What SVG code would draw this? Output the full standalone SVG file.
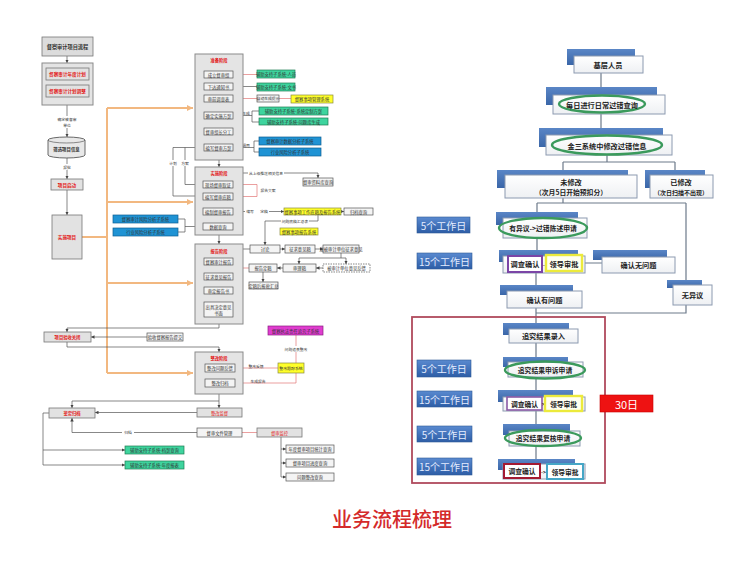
<svg xmlns="http://www.w3.org/2000/svg" width="750" height="572" viewBox="0 0 750 572">
<defs>
<style>
.bg{fill:#ffffff}
.st{fill:#e4e4e4;stroke:#8a8a8a;stroke-width:1}
.ib{fill:#f4f4f4;stroke:#555;stroke-width:0.7}
.gb{fill:#3ed49e;stroke:#1d7d52;stroke-width:0.7}
.bb{fill:#1f93d4;stroke:#0e5f92;stroke-width:0.7}
.yb{fill:#ffff2a;stroke:#8a8a40;stroke-width:0.7}
.mb{fill:#e03ccf;stroke:#8a1f80;stroke-width:0.7}
.rb{fill:#e2e2e2;stroke:#777;stroke-width:0.8}
.t{font-family:"Noto Sans CJK SC","Noto Sans",sans-serif;font-size:4.3px;fill:#333;text-anchor:middle;dominant-baseline:central}
.tr{fill:#e21b1b;font-weight:bold}
.tb{font-weight:bold}
.ln{stroke:#555;stroke-width:0.7;fill:none}
.lr{stroke:#e27575;stroke-width:0.7;fill:none}
.lo{stroke:#f2b880;stroke-width:2;fill:none}
.lw{fill:#fff}
.tab{fill:url(#gtab)}
.wb{fill:url(#gwb);stroke:#8c9ab0;stroke-width:1}
.el{fill:none;stroke:#3b9a5c;stroke-width:2.4}
.rt{font-family:"Noto Sans CJK SC","Noto Sans",sans-serif;font-size:7.2px;fill:#222;font-weight:bold;text-anchor:middle;dominant-baseline:central}
.rl{stroke:#6d7a8a;stroke-width:1.2;fill:none}
.dl{fill:url(#gdl);stroke:#2f5a96;stroke-width:0.6}
.dt{font-family:"Noto Sans CJK SC","Noto Sans",sans-serif;font-size:10px;fill:#e4ecff;text-anchor:middle;dominant-baseline:central}
</style>
<linearGradient id="gtab" x1="0" y1="0" x2="0" y2="1"><stop offset="0" stop-color="#5a86c6"/><stop offset="1" stop-color="#3a66a8"/></linearGradient>
<linearGradient id="gwb" x1="0" y1="0" x2="0" y2="1"><stop offset="0" stop-color="#ffffff"/><stop offset="1" stop-color="#eef0f3"/></linearGradient>
<linearGradient id="gdl" x1="0" y1="0" x2="0" y2="1"><stop offset="0" stop-color="#5a8ad0"/><stop offset="1" stop-color="#2d5da6"/></linearGradient>
<marker id="a" viewBox="0 0 6 6" refX="6" refY="3" markerWidth="5" markerHeight="5" orient="auto"><path d="M0,0L6,3L0,6z" fill="#444"/></marker>
<marker id="ar" viewBox="0 0 6 6" refX="6" refY="3" markerWidth="5" markerHeight="5" orient="auto"><path d="M0,0L6,3L0,6z" fill="#e06060"/></marker>
<marker id="ao" viewBox="0 0 6 6" refX="6" refY="3" markerWidth="3" markerHeight="3" orient="auto"><path d="M0,0L6,3L0,6z" fill="#f2b880"/></marker>
</defs>
<rect class="bg" x="0" y="0" width="750" height="572"/>

<!-- ===== LEFT DIAGRAM CONNECTORS ===== -->
<g id="left-connectors">
<path class="lo" d="M82,237H107M107,108V373"/>
<path class="lo" d="M107,108H193" marker-end="url(#ao)"/>
<path class="lo" d="M107,202H193" marker-end="url(#ao)"/>
<path class="lo" d="M107,283H193" marker-end="url(#ao)"/>
<path class="lo" d="M107,373H193" marker-end="url(#ao)"/>
<path class="ln" d="M67,56V63" marker-end="url(#a)"/>
<path class="ln" d="M67,105V137" marker-end="url(#a)"/>
<path class="ln" d="M67,158V179" marker-end="url(#a)"/>
<path class="ln" d="M67,190V215" marker-end="url(#a)"/>
<rect class="lw" x="55" y="116" width="24" height="12"/>
<text class="t" x="67" y="119" style="font-size:3.8px">确定被督审</text>
<text class="t" x="67" y="125" style="font-size:3.8px">单位</text>
<rect class="lw" x="61" y="164" width="12" height="6"/>
<text class="t" x="67" y="167" style="font-size:3.8px">报批</text>
<!-- prep stage internal -->
<path class="ln" d="M218.5,78V83" marker-end="url(#a)"/>
<path class="ln" d="M218.5,90V95" marker-end="url(#a)"/>
<path class="ln" d="M218.5,102V112" marker-end="url(#a)"/>
<path class="ln" d="M218.5,119V128" marker-end="url(#a)"/>
<path class="ln" d="M218.5,135V144" marker-end="url(#a)"/>
<path class="lr" d="M233,74.5H257"/>
<path class="ln" d="M257,86.5H233" marker-end="url(#a)"/>
<path class="lr" d="M233,98.5H257M279,98.5H291"/>
<path class="ln" d="M259,111H252V122H259M252,115.5H233" marker-end="url(#a)"/>
<path class="ln" d="M259,141H254V152H259M254,147.5H233" marker-end="url(#a)"/>
<text class="t" x="246" y="113" style="font-size:3.8px">生成</text>
<text class="t" x="246" y="145" style="font-size:3.8px">调用</text>
<path class="ln" d="M204,147.5H173V196H202" marker-end="url(#a)"/>
<path class="ln" d="M185,147.5V184.5H202" marker-end="url(#a)"/>
<rect class="lw" x="167" y="160" width="24" height="6"/>
<text class="t" x="173" y="163" style="font-size:3.8px">计划</text>
<text class="t" x="185" y="163" style="font-size:3.8px">方案</text>
<path class="ln" d="M219,160V167" marker-end="url(#a)"/>
<!-- implementation stage -->
<path class="ln" d="M218,188V193" marker-end="url(#a)"/>
<path class="ln" d="M218,200V208" marker-end="url(#a)"/>
<path class="ln" d="M218,215V223" marker-end="url(#a)"/>
<path class="ln" d="M243,173H318V178" marker-end="url(#a)"/>
<rect class="lw" x="248" y="170" width="36" height="6"/>
<text class="t" x="266" y="173" style="font-size:3.8px">从上级推送相关信息</text>
<path class="lr" d="M233,184.5H257V196.5H233"/>
<text class="t" x="268" y="190.5" style="font-size:3.8px">报告文案</text>
<path class="ln" d="M233,211.5H284" marker-end="url(#a)"/>
<rect class="lw" x="245" y="208.5" width="24" height="6"/>
<text class="t" x="250" y="211.5" style="font-size:3.8px">编写</text>
<text class="t" x="264" y="211.5" style="font-size:3.8px">定稿</text>
<path class="ln" d="M341,211.5H344" marker-end="url(#a)"/>
<path class="ln" d="M318,215V221H265V245" marker-end="url(#a)"/>
<rect class="lw" x="281" y="218" width="28" height="6"/>
<text class="t" x="295" y="221" style="font-size:3.8px">问题底稿汇总表</text>
<path class="ln" d="M178,219H185V232H178M185,226.5H203" marker-end="url(#a)"/>
<path class="ln" d="M219,235V244" marker-end="url(#a)"/>
<!-- report stage -->
<path class="ln" d="M218.5,265V273" marker-end="url(#a)"/>
<path class="ln" d="M218.5,280V287" marker-end="url(#a)"/>
<path class="ln" d="M218.5,294V302" marker-end="url(#a)"/>
<path class="ln" d="M250,249H241V258"/>
<path class="lr" d="M249,268H239V261.5H233" marker-end="url(#ar)"/>
<path class="ln" d="M280,249H285" marker-end="url(#a)"/>
<path class="ln" d="M315,249H323" marker-end="url(#a)"/>
<path class="ln" d="M341,253V258H299V264" marker-end="url(#a)"/>
<path class="ln" d="M341,258H346V264" marker-end="url(#a)"/>
<path class="ln" d="M323,268H316" marker-end="url(#a)"/>
<path class="ln" d="M283,268H277" marker-end="url(#a)"/>
<path class="ln" d="M263,272V282" marker-end="url(#a)"/>
<path class="ln" d="M219,324V328H67V332" marker-end="url(#a)"/>
<path class="ln" d="M147,337H91" marker-end="url(#a)"/>
<path class="ln" d="M67,342V347H219V352" marker-end="url(#a)"/>
<!-- rectification -->
<path class="ln" d="M220,372V379" marker-end="url(#a)"/>
<path class="lr" d="M235,368H278"/>
<text class="t" x="256" y="366" style="font-size:3.8px">整改反馈</text>
<path class="lr" d="M296,373V383H235" marker-end="url(#ar)"/>
<text class="t" x="258" y="381" style="font-size:3.8px">生成报告</text>
<path class="lr" d="M296,335V363"/>
<rect class="lw" x="283" y="346" width="26" height="6"/>
<text class="t" x="296" y="349" style="font-size:3.8px">问题追责整改</text>
<path class="ln" d="M219,394V408" marker-end="url(#a)"/>
<path class="ln" d="M219,401H72V408" marker-end="url(#a)"/>
<path class="ln" d="M197,412.5H95" marker-end="url(#a)"/>
<path class="ln" d="M197,432.5H72V418" marker-end="url(#a)"/>
<rect class="lw" x="122" y="429.5" width="12" height="6"/>
<text class="t" x="128" y="432.5" style="font-size:3.8px">归档</text>
<path class="lr" d="M242,432.5H257"/>
<path class="ln" d="M281,437V477"/>
<path class="ln" d="M281,449H286" marker-end="url(#a)"/>
<path class="ln" d="M281,463H286" marker-end="url(#a)"/>
<path class="ln" d="M281,477H286" marker-end="url(#a)"/>
<path class="ln" d="M49,413H43V465"/>
<path class="ln" d="M43,450H125" marker-end="url(#a)"/>
<path class="ln" d="M43,465H125" marker-end="url(#a)"/>
</g>

<!-- ===== LEFT DIAGRAM NODES ===== -->
<g id="l-title"><rect x="42" y="37" width="51" height="19" fill="#dcdcdc" stroke="#777" stroke-width="0.8"/><text class="t tb" x="67.5" y="46.5" style="font-size:5.2px">督察审计项目流程</text></g>
<g id="l-plan"><rect class="st" x="42" y="63" width="51" height="42"/>
<rect class="rb" x="46" y="68" width="43" height="12"/><text class="t tr" x="67.5" y="74" style="font-size:4.6px">督察审计年度计划</text>
<rect class="rb" x="46" y="85" width="43" height="12"/><text class="t tr" x="67.5" y="91" style="font-size:4.6px">督察审计计划调整</text></g>
<g id="l-screen"><path d="M48,140V155A18.5,3 0 0 0 85,155V140A18.5,3 0 0 0 48,140Z" fill="#e8e8e8" stroke="#444" stroke-width="0.8"/><path d="M48,140A18.5,3 0 0 0 85,140" fill="none" stroke="#444" stroke-width="0.6"/><text class="t tb" x="66.5" y="148.5" style="font-size:4.4px">筛选项目信息</text></g>
<g id="l-start"><rect class="rb" x="51" y="179" width="32" height="11"/><text class="t tr" x="67" y="184.5" style="font-size:4.6px">项目启动</text></g>
<g id="l-impl"><rect class="rb" x="52" y="215" width="30" height="44"/><text class="t tr" x="67" y="237" style="font-size:4.6px">实施项目</text></g>

<g id="s-prep"><rect class="st" x="195" y="54" width="48" height="106"/><text class="t tr" x="219" y="60">准备阶段</text>
<rect class="ib" x="204" y="71" width="29" height="7"/><text class="t" x="218.5" y="74.5">成立督审组</text>
<rect class="ib" x="204" y="83" width="29" height="7"/><text class="t" x="218.5" y="86.5">下达通知书</text>
<rect class="ib" x="204" y="95" width="29" height="7"/><text class="t" x="218.5" y="98.5">审前调查表</text>
<rect class="ib" x="204" y="112" width="29" height="7"/><text class="t" x="218.5" y="115.5">确定实施方案</text>
<rect class="ib" x="204" y="128" width="29" height="7"/><text class="t" x="218.5" y="131.5">督审组长分工</text>
<rect class="ib" x="204" y="144" width="29" height="7"/><text class="t" x="218.5" y="147.5">编写督审方案</text></g>
<g id="n-g1"><rect class="gb" x="257" y="70" width="38" height="8"/><text class="t" x="276" y="74">辅助支持子系统-人员</text></g>
<g id="n-g2"><rect class="gb" x="257" y="83" width="38" height="8"/><text class="t" x="276" y="87">辅助支持子系统-文书</text></g>
<g id="n-auto"><rect class="ib" x="257" y="95" width="22" height="7"/><text class="t" x="268" y="98.5" style="font-size:3.8px">自动生成提示</text></g>
<g id="n-y1"><rect class="yb" x="291" y="95" width="42" height="8"/><text class="t" x="312" y="99">督察事项管理系统</text></g>
<g id="n-g3"><rect class="gb" x="259" y="107" width="69" height="8"/><text class="t" x="293.5" y="111">辅助支持子系统-系统定制方案</text></g>
<g id="n-g4"><rect class="gb" x="259" y="118" width="69" height="7"/><text class="t" x="293.5" y="121.5">辅助支持子系统-问题库生成</text></g>
<g id="n-b1"><rect class="bb" x="259" y="137" width="62" height="8"/><text class="t" x="290" y="141">督察审计数据分析子系统</text></g>
<g id="n-b2"><rect class="bb" x="259" y="148" width="62" height="8"/><text class="t" x="290" y="152">行业风险分析子系统</text></g>

<g id="s-impl"><rect class="st" x="195" y="167" width="48" height="68"/><text class="t tr" x="219" y="173">实施阶段</text>
<rect class="ib" x="203" y="181" width="30" height="7"/><text class="t" x="218" y="184.5">现场督审取证</text>
<rect class="ib" x="203" y="193" width="30" height="7"/><text class="t" x="218" y="196.5">编写督审底稿</text>
<rect class="ib" x="203" y="208" width="30" height="7"/><text class="t" x="218" y="211.5">编制督审报告</text>
<rect class="ib" x="203" y="223" width="30" height="7"/><text class="t" x="218" y="226.5">数据查询</text></g>
<g id="n-lib"><rect class="ib" x="303" y="178" width="30" height="8"/><text class="t" x="318" y="182">督审资料库查询</text></g>
<g id="n-y2"><rect class="yb" x="284" y="208" width="57" height="7"/><text class="t" x="312.5" y="211.5">督察事项工作底稿及报告系统</text></g>
<g id="n-arch"><rect class="ib" x="344" y="208" width="29" height="7"/><text class="t" x="358.5" y="211.5">归档查询</text></g>
<g id="n-b3"><rect class="bb" x="113" y="215" width="65" height="8"/><text class="t" x="145.5" y="219">督察审计风险分析子系统</text></g>
<g id="n-b4"><rect class="bb" x="113" y="228" width="65" height="8"/><text class="t" x="145.5" y="232">行业风险分析子系统</text></g>

<g id="s-report"><rect class="st" x="195" y="244" width="48" height="80"/><text class="t tr" x="219" y="251">报告阶段</text>
<rect class="ib" x="204" y="258" width="29" height="7"/><text class="t" x="218.5" y="261.5">督察审计报告</text>
<rect class="ib" x="204" y="273" width="29" height="7"/><text class="t" x="218.5" y="276.5">征求意见报告</text>
<rect class="ib" x="204" y="287" width="29" height="7"/><text class="t" x="218.5" y="290.5">审定报告书</text>
<rect class="ib" x="204" y="302" width="29" height="15"/><text class="t" x="218.5" y="306.5">出具决定意见</text><text class="t" x="218.5" y="312.5">书面</text></g>
<g id="n-y3"><rect class="yb" x="280" y="228" width="38" height="7"/><text class="t" x="299" y="231.5">督察事项报告系统</text></g>
<g id="n-disc"><rect class="ib" x="250" y="245" width="30" height="8"/><text class="t" x="265" y="249">讨论</text></g>
<g id="n-draft"><rect class="ib" x="285" y="245" width="30" height="8"/><text class="t" x="300" y="249">征求意见稿</text></g>
<g id="n-send"><rect class="ib" x="323" y="245" width="36" height="8"/><text class="t" x="341" y="249">发被审计单位征求意见</text></g>
<g id="n-final"><rect class="ib" x="249" y="264" width="28" height="8"/><text class="t" x="263" y="268">报告定稿</text></g>
<g id="n-review"><rect class="ib" x="283" y="264" width="33" height="8"/><text class="t" x="299.5" y="268">审理稿</text></g>
<g id="n-fb"><rect x="323" y="264" width="47" height="8" fill="#fff" stroke="#555" stroke-width="0.7" stroke-dasharray="1.5,1"/><text class="t" x="346.5" y="268">被审计单位意见反馈</text></g>
<g id="n-sum"><rect class="ib" x="249" y="282" width="29" height="7"/><text class="t" x="263.5" y="285.5">定稿后报批汇总</text></g>

<g id="n-close"><rect class="rb" x="44" y="332" width="47" height="10"/><text class="t tr" x="67.5" y="337">项目验收关闭</text></g>
<g id="n-accept"><rect class="ib" x="147" y="333" width="36" height="8"/><text class="t" x="165" y="337">验收督察报告提交</text></g>

<g id="s-fix"><rect class="st" x="195" y="352" width="48" height="42"/><text class="t tr" x="219" y="357.5">整改阶段</text>
<rect class="ib" x="205" y="364" width="30" height="8"/><text class="t" x="220" y="368">整改问题反馈</text>
<rect class="ib" x="205" y="379" width="30" height="8"/><text class="t" x="220" y="383">整改归档</text></g>
<g id="n-mag"><rect class="mb" x="268" y="326" width="55" height="9"/><text class="t" x="295.5" y="330.5">督察执法责任追究子系统</text></g>
<g id="n-y4"><rect class="yb" x="278" y="363" width="26" height="10"/><text class="t" x="291" y="368" style="font-size:3.9px">整改跟踪系统</text></g>

<g id="n-sup"><rect class="rb" x="197" y="408" width="45" height="9"/><text class="t tr" x="219.5" y="412.5" style="font-weight:normal">整改监督</text></g>
<g id="n-arch2"><rect class="rb" x="49" y="408" width="46" height="10"/><text class="t tr" x="72" y="413">鉴定归档</text></g>
<g id="n-doc"><rect class="ib" x="197" y="428" width="45" height="9"/><text class="t" x="219.5" y="432.5">督审文件管理</text></g>
<g id="n-mon"><rect class="rb" x="257" y="428" width="45" height="9"/><text class="t tr" x="279.5" y="432.5" style="font-weight:normal">督审监控</text></g>
<g id="n-q1"><rect class="ib" x="286" y="445" width="48" height="8"/><text class="t" x="310" y="449">年度督审项目统计查询</text></g>
<g id="n-q2"><rect class="ib" x="286" y="459" width="48" height="8"/><text class="t" x="310" y="463">督审项目进度查询</text></g>
<g id="n-q3"><rect class="ib" x="286" y="473" width="48" height="8"/><text class="t" x="310" y="477">问题整改查询</text></g>
<g id="n-g5"><rect class="gb" x="125" y="446" width="59" height="8"/><text class="t" x="154.5" y="450">辅助支持子系统-档案查询</text></g>
<g id="n-g6"><rect class="gb" x="125" y="461" width="59" height="8"/><text class="t" x="154.5" y="465">辅助支持子系统-年度报表</text></g>

<!-- ===== RIGHT DIAGRAM ===== -->
<g id="right-connectors">
<path class="rl" d="M601,73V87M601,114V128M607,155V162M563,162H675M563,162V170M675,162V170"/>
<path class="rl" d="M563,198V203M537,203H686M537,203V212M686,203V280"/>
<path class="rl" d="M537,238V250M582,263H602M536,272V285"/>
<path class="rl" d="M686,305V313H536M536,308V323"/>
<path class="rl" d="M536,343V357M536,377V390M536,410V424M536,446V459"/>
<rect x="412" y="317" width="193" height="166" fill="none" stroke="#b04a5c" stroke-width="1.8"/>
</g>
<g id="r-base"><rect class="tab" x="567" y="49" width="68" height="16"/><rect class="wb" x="574" y="56" width="69" height="17"/><text class="rt" x="608" y="65">基层人员</text></g>
<g id="r-daily"><rect class="tab" x="546" y="87" width="111" height="18"/><rect class="wb" x="553" y="95" width="112" height="19"/><ellipse class="el" cx="602" cy="104" rx="43" ry="8.5"/><text class="rt" x="602" y="104.5">每日进行日常过错查询</text></g>
<g id="r-jin3"><rect class="tab" x="539" y="128" width="124" height="19"/><rect class="wb" x="546" y="135" width="126" height="20"/><ellipse class="el" cx="607" cy="145" rx="55" ry="9.5"/><text class="rt" x="607" y="145.5">金三系统中修改过错信息</text></g>
<g id="r-unmod"><rect class="tab" x="497" y="170" width="131" height="18"/><rect class="wb" x="505" y="175" width="132" height="23"/><text class="rt" x="571" y="182">未修改</text><text class="rt" x="571" y="192" style="font-size:6.8px">（次月5日开始预扣分）</text></g>
<g id="r-mod"><rect class="tab" x="645" y="170" width="60" height="18"/><rect class="wb" x="650" y="175" width="63" height="23"/><text class="rt" x="681" y="182">已修改</text><text class="rt" x="681" y="192" style="font-size:6px">（次日扫描不出现）</text></g>
<g id="r-obj"><rect class="tab" x="496" y="212" width="82" height="13"/><rect class="wb" x="503" y="218" width="84" height="20"/><ellipse class="el" cx="543" cy="228" rx="44" ry="10"/><text class="rt" x="543" y="228" style="font-size:6.8px">有异议-&gt;过错陈述申请</text></g>
<g id="r-inv1"><rect class="tab" x="499" y="250" width="79" height="12"/><rect class="wb" x="503" y="256" width="82" height="17"/><rect x="508" y="256" width="34" height="16" fill="#fff" stroke="#7b45a6" stroke-width="2"/><text class="rt" x="525" y="264">调查确认</text><text class="rt" x="544" y="264" style="font-size:5px">-</text><rect x="546" y="255" width="36" height="16" fill="#fffff0" stroke="#ecea3c" stroke-width="2.4"/><text class="rt" x="564" y="263.5">领导审批</text></g>
<g id="r-noprob"><rect class="tab" x="593" y="250" width="74" height="10"/><rect class="wb" x="602" y="257" width="73" height="16"/><text class="rt" x="638.5" y="265">确认无问题</text></g>
<g id="r-prob"><rect class="tab" x="500" y="285" width="73" height="10"/><rect class="wb" x="507" y="291" width="75" height="17"/><text class="rt" x="544.5" y="299.5">确认有问题</text></g>
<g id="r-noobj"><rect class="tab" x="667" y="280" width="35" height="8"/><rect class="wb" x="673" y="285" width="39" height="20"/><text class="rt" x="692.5" y="295">无异议</text></g>
<g id="r-enter"><rect class="tab" x="503" y="323" width="66" height="12"/><rect class="wb" x="509" y="329" width="69" height="14"/><text class="rt" x="543.5" y="336">追究结果录入</text></g>
<g id="r-appeal"><rect class="tab" x="503" y="357" width="65" height="10"/><rect class="wb" x="508" y="362" width="75" height="15"/><ellipse class="el" cx="545" cy="370" rx="40" ry="8.5"/><text class="rt" x="545" y="370" style="font-size:6.8px">追究结果申诉申请</text></g>
<g id="r-inv2"><rect class="tab" x="498" y="390" width="75" height="12"/><rect class="wb" x="503" y="397" width="82" height="14"/><rect x="507" y="397" width="35" height="13" fill="#fff" stroke="#8a5aa6" stroke-width="1.6"/><text class="rt" x="524.5" y="403.5" style="font-size:6.8px">调查确认</text><text class="rt" x="543.5" y="403.5" style="font-size:5px">&gt;</text><rect x="545" y="396" width="37" height="15" fill="#fffff0" stroke="#ecea3c" stroke-width="2.4"/><text class="rt" x="563.5" y="403.5" style="font-size:6.8px">领导审批</text></g>
<g id="r-review"><rect class="tab" x="503" y="424" width="67" height="11"/><rect class="wb" x="509" y="431" width="71" height="15"/><ellipse class="el" cx="543" cy="438" rx="38" ry="8"/><text class="rt" x="543" y="438" style="font-size:6.8px">追究结果复核申请</text></g>
<g id="r-inv3"><rect class="tab" x="498" y="459" width="77" height="11"/><rect class="wb" x="503" y="464" width="82" height="15"/><rect x="504" y="464" width="36" height="14" fill="#fff" stroke="#a31a32" stroke-width="2"/><text class="rt" x="522" y="471" style="font-size:6.8px">调查确认</text><text class="rt" x="543.5" y="471" style="font-size:5px">-&gt;</text><rect x="547" y="464" width="36" height="15" fill="#fff" stroke="#46a6c6" stroke-width="2"/><text class="rt" x="565" y="471.5" style="font-size:6.8px">领导审批</text></g>
<g id="r-30"><rect x="600" y="395" width="53" height="17" fill="#ee1212" stroke="#c80000" stroke-width="0.6"/><text x="626.5" y="404" style="font-family:'Noto Sans CJK SC','Noto Sans',sans-serif;font-size:11px;fill:#fff;text-anchor:middle;dominant-baseline:central">30日</text></g>
<g id="r-days">
<rect class="dl" x="417" y="217" width="53" height="16"/><text class="dt" x="443.5" y="225">5个工作日</text>
<rect class="dl" x="417" y="253" width="55" height="16"/><text class="dt" x="444.5" y="261">15个工作日</text>
<rect class="dl" x="417" y="360" width="54" height="17"/><text class="dt" x="444" y="368.5">5个工作日</text>
<rect class="dl" x="417" y="391" width="55" height="16"/><text class="dt" x="444.5" y="399">15个工作日</text>
<rect class="dl" x="417" y="426" width="55" height="16"/><text class="dt" x="444.5" y="434">5个工作日</text>
<rect class="dl" x="417" y="458" width="55" height="17"/><text class="dt" x="444.5" y="466.5">15个工作日</text>
</g>
<g id="caption"><text x="392" y="518" style="font-family:'Noto Sans CJK SC','Noto Sans',sans-serif;font-size:20px;fill:#d42a2a;text-anchor:middle;dominant-baseline:central;font-weight:500">业务流程梳理</text></g>
</svg>
